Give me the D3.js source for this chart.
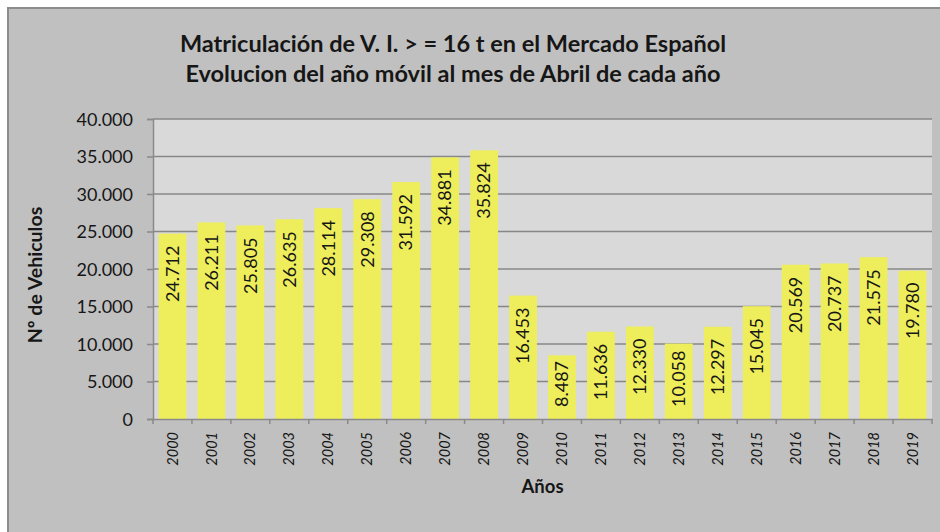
<!DOCTYPE html>
<html><head><meta charset="utf-8">
<script src="https://cdn.jsdelivr.net/npm/d3@7"></script>
<style>html,body{margin:0;padding:0;background:#fff;}svg{display:block;}</style>
</head><body>
<svg id="c" width="940" height="532"></svg>
<script>
const years = ["2000","2001","2002","2003","2004","2005","2006","2007","2008","2009","2010","2011","2012","2013","2014","2015","2016","2017","2018","2019"];
const values = [24712,26211,25805,26635,28114,29308,31592,34881,35824,16453,8487,11636,12330,10058,12297,15045,20569,20737,21575,19780];
const yTicks = [0,5000,10000,15000,20000,25000,30000,35000,40000];
const titleLines = ["Matriculación de V. I. > = 16 t en el Mercado Español","Evolucion del año móvil al mes de Abril de cada año"];
const yTitle = "Nº de Vehiculos";
const xTitle = "Años";

const FONT = "Lato, 'Open Sans', sans-serif";
const TXT = "#161616";
const loc = d3.formatLocale({decimal:",",thousands:".",grouping:[3],currency:["",""]});
const fmt = loc.format(",d");

const svg = d3.select("#c");
// outer chart area
svg.append("rect").attr("x",7).attr("y",7).attr("width",940).attr("height",540).attr("fill","#8c8c8c");
svg.append("rect").attr("x",9).attr("y",9).attr("width",940).attr("height",540).attr("fill","#c0c0c0");

const m = {left:153, right:932, top:119, bottom:419};
const x = d3.scaleBand().domain(years).range([m.left,m.right]).paddingInner(0.2857).paddingOuter(0.1429);
const y = d3.scaleLinear().domain([0,40000]).range([m.bottom,m.top]);

svg.append("rect").attr("x",m.left).attr("y",m.top).attr("width",m.right-m.left).attr("height",m.bottom-m.top).attr("fill","#d9d9d9");

// gridlines
svg.append("g").selectAll("line").data(yTicks.filter(d=>d>0)).join("line")
  .attr("x1",m.left).attr("x2",m.right).attr("y1",d=>y(d)).attr("y2",d=>y(d))
  .attr("stroke","#878787").attr("stroke-width",1.5);

// bars
svg.append("g").selectAll("rect").data(values).join("rect")
  .attr("x",(d,i)=>x(years[i])).attr("width",x.bandwidth())
  .attr("y",d=>y(d)).attr("height",d=>y(0)-y(d)).attr("fill","#eeee5c");

// y axis
const ya = svg.append("g").attr("transform",`translate(${m.left},0)`)
  .call(d3.axisLeft(y).tickValues(yTicks).tickFormat(fmt).tickSize(6).tickPadding(14));
ya.select(".domain").attr("stroke","#8a8a8a").attr("stroke-width",1.5);
ya.selectAll(".tick line").attr("stroke","#8a8a8a").attr("stroke-width",1.5);
ya.selectAll(".tick text").attr("font-family",FONT).attr("font-size",18).attr("fill",TXT).attr("dy","0.35em");

// x axis
const xa = svg.append("g").attr("transform",`translate(0,${m.bottom})`)
  .call(d3.axisBottom(x).tickSize(0).tickPadding(0));
xa.select(".domain").attr("stroke","#8a8a8a").attr("stroke-width",1.5);
// tick marks at band boundaries
xa.append("g").selectAll("line").data(d3.range(years.length+1)).join("line")
  .attr("x1",i=>m.left+i*(m.right-m.left)/years.length).attr("x2",i=>m.left+i*(m.right-m.left)/years.length)
  .attr("y1",0).attr("y2",5).attr("stroke","#8a8a8a").attr("stroke-width",1.5);
xa.selectAll(".tick text")
  .attr("font-family",FONT).attr("font-size",14.5).attr("font-style","italic").attr("fill",TXT)
  .attr("text-anchor","end").attr("transform","rotate(-90)")
  .attr("x",-13).attr("y",0).attr("dy","0.35em");

// bar labels
const lab = svg.append("g").selectAll("text").data(values).join("text")
  .attr("font-family",FONT).attr("font-size",18).attr("fill",TXT)
  .attr("text-anchor","start")
  .text(d=>fmt(d));
lab.each(function(d,i){
  const len = this.getComputedTextLength();
  const cx = x(years[i]) + x.bandwidth()/2;
  let bottom = y(d) + 12 + len;
  if (bottom > m.bottom - 12) { bottom = m.bottom - 12; }
  d3.select(this).attr("transform",`translate(${cx},${bottom}) rotate(-90)`).attr("dy","0.35em");
});

// titles
const t = svg.append("text").attr("font-family",FONT).attr("font-weight","bold").attr("font-size",23.5).attr("fill",TXT).attr("text-anchor","middle");
t.append("tspan").attr("x",453).attr("y",52).text(titleLines[0]);
t.append("tspan").attr("x",453).attr("y",82).text(titleLines[1]);

svg.append("text").attr("font-family",FONT).attr("font-weight","bold").attr("font-size",19.5).attr("fill",TXT)
  .attr("text-anchor","middle").attr("transform",`translate(42,${(m.top+m.bottom)/2 + 6}) rotate(-90)`).text(yTitle);
svg.append("text").attr("font-family",FONT).attr("font-weight","bold").attr("font-size",18.5).attr("fill",TXT)
  .attr("text-anchor","middle").attr("x",(m.left+m.right)/2).attr("y",493).text(xTitle);
</script>
</body></html>
